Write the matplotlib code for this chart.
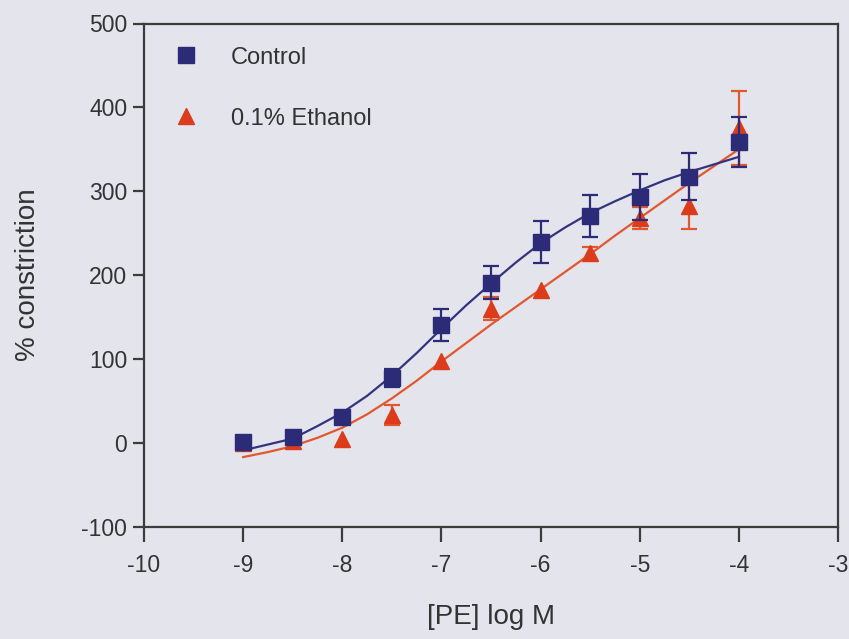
import matplotlib
matplotlib.use("Agg")
import matplotlib.pyplot as plt
from matplotlib.lines import Line2D

plt.rcParams['font.family'] = ['Liberation Sans', 'DejaVu Sans']
plt.rcParams['axes.unicode_minus'] = False

# ---- data (log M) ----
log_conc = [-9, -8.5, -8, -7.5, -7, -6.5, -6, -5.5, -5, -4.5, -4]
control_mean = [1, 7, 31, 77, 140, 191, 240, 270, 293, 317, 359]
control_sem = [0, 0, 0, 11, 19, 20, 25, 25, 27, 28, 30]
ethanol_mean = [0, 2, 5, 33, 98, 160, 182, 226, 268, 282, 375]
ethanol_sem = [0, 0, 0, 12, 0, 14, 0, 8, 13, 27, 44]

# fitted curves
curve_x = [-9, -8.75, -8.5, -8.25, -8, -7.75, -7.5, -7.25, -7, -6.75, -6.5,
           -6.25, -6, -5.75, -5.5, -5.25, -5, -4.75, -4.5, -4.25, -4]
control_curve = [-9, -2, 5, 20, 36, 56, 80, 107, 136, 164, 190,
                 215, 238, 257, 274, 288, 301, 313, 323, 332, 341]
ethanol_curve = [-17, -11, -4, 6, 18, 34, 53, 74, 97, 119, 141,
                 162, 183, 204, 225, 247, 268, 289, 310, 330, 350]

x_ticks = [-10, -9, -8, -7, -6, -5, -4, -3]
y_ticks = [-100, 0, 100, 200, 300, 400, 500]

bg = '#e4e4ec'
navy = '#2b2b78'
navy_line = '#34347e'
red = '#dc3c1c'
red_line = '#e2582e'
spine_c = '#3c3c3c'
text_c = '#333333'

fig = plt.figure(figsize=(8.49, 6.39), dpi=100, facecolor=bg)
ax = fig.add_axes([144/849, 1 - 526.7/639, (838-144)/849, (526.7-23.5)/639])
ax.set_facecolor(bg)


def with_err(xs, ys, es):
    keep = [i for i, e in enumerate(es) if e > 0]
    return [xs[i] for i in keep], [ys[i] for i in keep], [es[i] for i in keep]


# ethanol (drawn below control)
ax.plot(curve_x, ethanol_curve, color=red_line, lw=1.6, zorder=2)
ex, ey, ee = with_err(log_conc, ethanol_mean, ethanol_sem)
ax.errorbar(ex, ey, yerr=ee, fmt='none',
            ecolor=red_line, elinewidth=1.6, capsize=5.5, capthick=1.6, zorder=3)
ax.plot(log_conc, ethanol_mean, linestyle='none', marker='^', ms=11,
        color=red, mec=red, zorder=4)

# control
ax.plot(curve_x, control_curve, color=navy_line, lw=1.6, zorder=5)
cx, cy, ce = with_err(log_conc, control_mean, control_sem)
ax.errorbar(cx, cy, yerr=ce, fmt='none',
            ecolor=navy, elinewidth=1.6, capsize=5.5, capthick=1.6, zorder=6)
ax.plot(log_conc, control_mean, linestyle='none', marker='s', ms=11,
        color=navy, mec=navy, zorder=7)

ax.set_xlim(-10, -3)
ax.set_ylim(-100, 500)
ax.set_xticks(x_ticks)
ax.set_xticklabels([str(v) for v in x_ticks])
ax.set_yticks(y_ticks)
ax.set_yticklabels([str(v) for v in y_ticks])

for s in ax.spines.values():
    s.set_color(spine_c)
    s.set_linewidth(1.6)

ax.tick_params(axis='x', direction='out', length=11, width=1.6, color=spine_c,
               labelsize=16.5, labelcolor=text_c, pad=9)
ax.tick_params(axis='y', direction='out', length=8, width=1.6, color=spine_c,
               labelsize=16.5, labelcolor=text_c, pad=4)

ax.set_xlabel('[PE] log M', fontsize=20, color=text_c, labelpad=19)
ax.set_ylabel('% constriction', fontsize=20, color=text_c, labelpad=29)

handles = [Line2D([], [], linestyle='none', marker='s', ms=11, color=navy),
           Line2D([], [], linestyle='none', marker='^', ms=11, color=red)]
leg = ax.legend(handles, ['Control', '0.1% Ethanol'], loc='upper left',
                bbox_to_anchor=(0.03, 0.973), frameon=False, fontsize=17,
                handlelength=1.0, handletextpad=1.4, labelspacing=1.66,
                borderaxespad=0.0)
for t in leg.get_texts():
    t.set_color(text_c)

fig.savefig('out.png', dpi=100, facecolor=bg)
